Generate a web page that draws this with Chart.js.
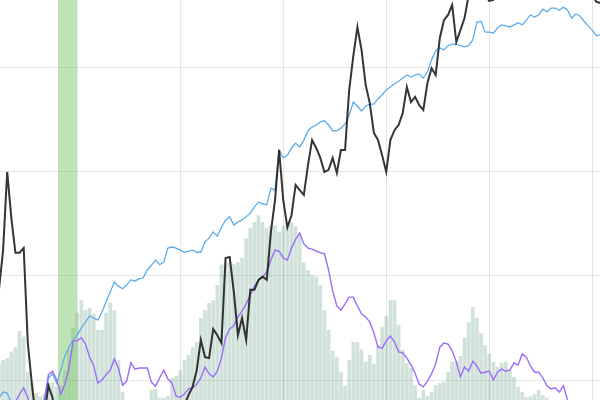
<!DOCTYPE html>
<html>
<head>
<meta charset="utf-8">
<script src="https://cdn.jsdelivr.net/npm/chart.js@4/dist/chart.umd.min.js"></script>
<style>
  html, body { margin: 0; padding: 0; background: #fff; }
  #wrap { width: 600px; height: 400px; }
</style>
</head>
<body>
<div id="wrap"><canvas id="myChart"></canvas></div>
<script>
// 日序號 (x 軸)
var days = [];
for (var d = 6; d <= 152; d++) days.push(d);

// 價格 (黑線)
var price = [
  37.3, 44.9, 59.9, 51.1, 44.4, 44.4, 45.3, 27.1, 19.1, 12.3, 10.4, 13.3, 18.9, 16.6, 10.4,
  9.0, 8.2, 7.5, 7.0, 6.8, 7.5, 8.4, 8.0, 7.2, 6.5, 6.0, 6.8, 7.6, 8.2, 7.5,
  6.9, 7.3, 8.0, 8.8, 9.5, 9.0, 8.6, 9.4, 10.2, 11.0, 11.8, 12.5, 13.3, 14.0, 14.3,
  15.2, 17.1, 18.7, 21.9, 27.7, 24.4, 24.2, 29.8, 28.6, 27.1,
  43.4, 43.6, 36.9, 28.6, 31.9, 27.7, 37.3, 37.3, 39.2, 39.8,
  39.2, 48.4, 54.5, 64.1, 54.5, 49.3, 51.6, 57.4, 56.4, 55.5,
  61.2, 66.0, 64.5, 62.6, 59.9, 60.3, 62.6, 59.7, 64.1, 64.1,
  75.6, 82.1, 87.7, 83.3, 76.6, 73.1, 67.4, 66.0, 63.1, 59.9,
  66.0, 67.9, 68.9, 71.2, 76.2, 73.3, 74.3, 72.7, 71.8, 77.0,
  79.8, 78.5, 85.6, 89.0, 90.0, 91.9, 84.8, 87.1, 89.4, 93.8,
  96.7, 95.7, 94.8, 93.8, 92.7, 92.9, 94.4, 96.3, 97.0, 97.8,
  98.2, 97.5, 98.4, 99.1, 98.6, 97.9, 98.8, 99.5, 98.9, 98.2,
  97.6, 98.3, 97.4, 96.8, 97.2, 96.5, 95.9, 95.2, 94.6, 93.8,
  92.5, 92.3
];

// 長期均線 (藍線)
var trend = [
  16.6, 17.7, 17.5, 15.6, 15.0, 15.0, 14.6, 14.4, 14.5, 14.8, 14.9, 15.5, 20.4, 21.2, 19.4,
  21.9, 24.6, 26.3, 27.7, 28.6, 30.0, 31.1, 32.3, 31.9, 31.5,
  33.0, 35.0, 36.9, 38.8, 38.0, 37.5, 38.2, 39.2, 39.0, 39.4,
  39.6, 41.1, 42.0, 43.0, 42.1, 42.6, 45.3, 45.5, 45.3, 44.9,
  44.5, 44.7, 44.9, 44.5, 44.5, 46.5, 47.2, 48.4, 47.6, 49.3,
  50.7, 51.3, 49.7, 50.3, 50.7, 51.3, 52.0, 53.2, 54.1, 53.8,
  53.6, 56.8, 56.4, 64.1, 62.6, 63.1, 64.5, 65.4, 64.7, 66.0,
  67.8, 68.5, 68.9, 69.5, 69.7, 68.9, 67.8, 67.8, 68.3, 69.1,
  70.8, 73.3, 72.5, 71.6, 72.5, 72.9, 72.9, 73.9, 74.7, 75.6,
  76.2, 76.8, 77.3, 77.9, 78.5, 78.1, 78.5, 78.7, 77.9, 79.1,
  81.4, 83.1, 83.7, 83.3, 84.1, 84.4, 84.4, 84.1, 83.9, 84.1,
  85.2, 88.6, 88.8, 86.7, 86.7, 86.5, 87.5, 88.1, 87.9, 87.7,
  88.1, 88.5, 88.1, 89.0, 90.0, 89.6, 90.0, 91.1, 90.6, 91.3,
  91.3, 90.9, 91.5, 90.9, 89.4, 90.2, 89.8, 88.8, 87.9, 87.1,
  86.0, 86.2
];

// 指標 (紫線)
var signal = [
  12.3, 13.3, 13.9, 14.6, 15.8, 17.3, 18.5, 16.6, 14.2, 13.3, 13.9, 16.2, 21.0, 21.7, 20.0,
  17.3, 19.2, 22.3, 27.5, 27.5, 28.1, 26.9, 24.4, 22.7, 19.4,
  20.0, 21.0, 21.9, 24.0, 22.3, 19.0, 19.8, 23.3, 22.1, 22.3,
  22.3, 22.3, 19.6, 18.8, 20.4, 21.9, 20.2, 19.4, 16.9, 16.7,
  17.3, 18.3, 18.5, 19.2, 20.4, 22.5, 21.2, 20.6, 21.7, 24.2,
  28.1, 29.8, 30.4, 32.1, 33.2, 34.6, 36.3, 38.0, 39.2, 39.8,
  40.7, 43.0, 44.9, 44.7, 43.4, 43.0, 45.3, 47.0, 48.2, 46.1,
  45.3, 45.1, 44.7, 44.4, 44.2, 41.1, 37.1, 34.2, 33.4, 34.6,
  35.9, 35.9, 34.2, 32.7, 32.1, 31.1, 29.0, 26.3, 26.1, 27.5,
  28.4, 27.3, 25.4, 25.2, 24.2, 22.9, 21.3, 19.2, 18.7, 19.8,
  21.2, 23.1, 26.3, 27.1, 26.9, 25.6, 23.5, 20.6, 22.5, 21.7,
  23.6, 22.7, 21.3, 21.5, 21.7, 20.0, 21.5, 22.1, 21.7, 21.9,
  23.3, 22.9, 25.0, 24.4, 22.7, 21.5, 21.5, 20.4, 18.9, 18.3,
  18.5, 17.7, 18.9, 16.2, 13.3, 12.3, 11.5, 11.0, 10.6, 10.2,
  10.0, 9.8
];

// 成交量 (綠色柱)
var volume = [
  23.1, 23.8, 24.2, 25.4, 26.3, 29.4, 28.3, 21.5, 19.4, 17.5, 16.9, 17.3, 19.4, 19.6, 18.8,
  19.0, 21.9, 25.8, 30.0, 32.9, 35.3, 33.4, 33.8, 32.7, 29.6,
  29.6, 32.9, 34.8, 33.4, 23.8, 17.7, 0, 0, 0, 0,
  0, 0, 18.1, 18.3, 16.6, 16.6, 16.9, 20.4, 20.8, 21.9,
  23.8, 24.8, 26.3, 27.3, 31.9, 33.4, 34.8, 35.3, 38.2, 42.1,
  42.6, 42.6, 42.2, 42.6, 43.4, 47.2, 49.2, 50.3, 51.6, 50.3,
  49.2, 49.7, 49.7, 48.4, 49.5, 50.1, 50.3, 49.5, 48.2, 42.6,
  41.1, 40.1, 39.8, 38.2, 33.4, 29.6, 25.6, 24.4, 21.5, 18.9,
  23.8, 27.3, 27.3, 25.8, 23.5, 24.8, 23.1, 26.7, 30.2, 32.3,
  35.3, 35.3, 30.6, 25.8, 23.3, 22.3, 19.0, 16.6, 18.1, 16.9,
  17.7, 19.0, 19.4, 19.6, 21.5, 23.5, 23.6, 24.6, 28.1, 31.1,
  34.0, 31.9, 29.0, 26.7, 25.0, 23.5, 22.5, 23.3, 23.5, 21.9,
  20.6, 18.7, 17.7, 16.7, 16.9, 17.3, 18.1, 17.1, 16.6, 0,
  0, 0, 0, 0, 0, 0, 0, 0, 0, 0,
  0, 0
];

// 標示區間 (綠色帶)
var shadeRange = [20.3, 25];

function keepSteps(step){
    return function(scale){
        scale.ticks = scale.ticks.filter(function(t){
            return Math.abs(t.value / step - Math.round(t.value / step)) < 1e-6;
        });
    };
}

function initChart(){
    var ctx = document.getElementById('myChart');
    var myChart = new Chart(ctx, {
        type: 'line',
        data: {
            labels: days,
            datasets: [{
                label: 'price',
                data: price,
                borderColor: 'rgba(25,25,25,0.88)',
                borderWidth: 2,
                pointRadius: 0,
                tension: 0,
                order: 0
            }, {
                label: 'signal',
                data: signal,
                borderColor: 'rgb(155,110,250)',
                borderWidth: 1.4,
                pointRadius: 0,
                tension: 0,
                order: 1
            }, {
                label: 'trend',
                data: trend,
                borderColor: 'rgb(95,172,235)',
                borderWidth: 1.3,
                pointRadius: 0,
                tension: 0,
                order: 2
            }, {
                label: 'shade',
                data: [{x: shadeRange[0], y: 120}, {x: shadeRange[1], y: 120}],
                borderWidth: 0,
                pointRadius: 0,
                fill: 'start',
                backgroundColor: 'rgba(110,195,90,0.45)',
                order: 3
            }, {
                type: 'bar',
                label: 'volume',
                data: volume,
                backgroundColor: 'rgba(100,160,130,0.3)',
                borderWidth: 0,
                categoryPercentage: 1,
                barPercentage: 0.9,
                order: 4
            }]
        },
        options: {
            responsive: true,
            maintainAspectRatio: false,
            animation: false,
            layout: { autoPadding: false, padding: 0 },
            plugins: {
                legend: { display: false },
                tooltip: { enabled: false }
            },
            scales: {
                x: {
                    type: 'linear',
                    min: 6.25,
                    max: 151.88,
                    offset: false,
                    ticks: { display: false, stepSize: 25, includeBounds: false },
                    afterBuildTicks: keepSteps(25),
                    grid: { drawTicks: false, offset: false, color: 'rgba(0,0,0,0.1)' },
                    border: { display: false }
                },
                y: {
                    min: 16.17,
                    max: 92.87,
                    ticks: { display: false, stepSize: 20, includeBounds: false },
                    afterBuildTicks: keepSteps(20),
                    grid: { drawTicks: false, color: 'rgba(0,0,0,0.1)' },
                    border: { display: false }
                }
            }
        }
    });
};

initChart();
</script>
</body>
</html>
